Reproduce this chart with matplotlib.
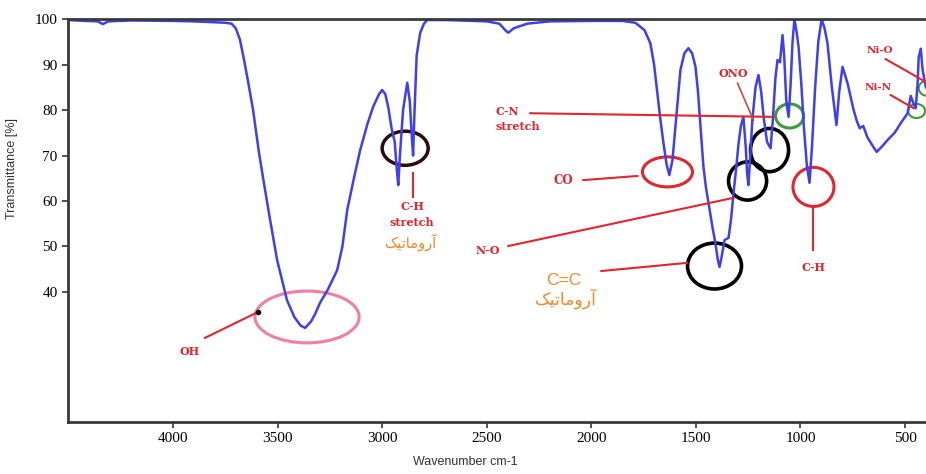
import matplotlib
matplotlib.use("Agg")
import matplotlib.pyplot as plt
from matplotlib.patches import Ellipse

# spectrum: wavenumber (cm-1) and transmittance (%)
wavenumber = [4500, 4420, 4360, 4335, 4310, 4200, 4000, 3900, 3800, 3750, 3720,
              3700, 3680, 3660, 3640, 3617, 3590, 3569, 3540, 3502, 3470, 3455,
              3420, 3390, 3368, 3340, 3320, 3297, 3260, 3215, 3190, 3167, 3135,
              3105, 3070, 3043, 3015, 3000, 2985, 2971, 2955, 2940, 2930, 2923,
              2915, 2900, 2880, 2868, 2858, 2852, 2845, 2835, 2818, 2800, 2785,
              2700, 2627, 2500, 2440, 2410, 2397, 2370, 2306, 2200, 2000, 1850,
              1790, 1765, 1745, 1718, 1700, 1684, 1670, 1655, 1640, 1627, 1612,
              1598, 1585, 1574, 1555, 1536, 1518, 1502, 1490, 1478, 1464, 1452,
              1440, 1420, 1407, 1395, 1387, 1378, 1363, 1344, 1332, 1320, 1308,
              1296, 1285, 1273, 1262, 1255, 1249, 1240, 1230, 1215, 1201, 1188,
              1175, 1160, 1143, 1132, 1120, 1110, 1098, 1086, 1078, 1068, 1057,
              1048, 1038, 1029, 1018, 1009, 995, 985, 970, 957, 945, 930, 915,
              899, 885, 871, 850, 828, 815, 799, 775, 746, 730, 717, 700, 680,
              660, 636, 610, 584, 550, 521, 488, 473, 460, 449, 440, 435, 425,
              416, 405, 400]
transmittance = [99.8, 99.6, 99.5, 98.9, 99.5, 99.7, 99.6, 99.5, 99.3, 99.2, 99.0,
                 98.0, 95.5, 91.0, 86.0, 80.0, 71.0, 65.0, 57.0, 47.0, 41.0, 38.2,
                 34.5, 32.6, 32.1, 33.5, 35.2, 37.6, 40.5, 44.8, 50.0, 58.0, 65.0,
                 71.2, 77.0, 80.7, 83.5, 84.4, 83.5, 80.7, 76.0, 73.0, 67.0, 63.5,
                 70.0, 80.0, 86.0, 82.0, 74.0, 70.0, 80.0, 92.0, 97.0, 99.0, 99.8,
                 99.8, 99.7, 99.5, 99.0, 97.5, 97.0, 98.0, 99.0, 99.5, 99.6, 99.6,
                 99.2, 98.3, 97.5, 94.7, 90.0, 83.7, 78.0, 72.7, 68.0, 65.7, 69.0,
                 76.3, 83.0, 88.8, 92.5, 93.6, 92.5, 89.5, 84.0, 76.3, 67.5, 63.0,
                 59.6, 54.0, 50.8, 47.0, 45.5, 47.5, 51.4, 51.9, 56.0, 61.8, 67.0,
                 72.7, 76.5, 78.5, 72.0, 66.0, 63.5, 70.0, 78.0, 85.0, 87.7, 84.0,
                 78.0, 73.0, 71.6, 78.0, 87.0, 91.0, 90.5, 96.5, 92.0, 82.0, 78.5,
                 85.0, 95.0, 100.0, 97.0, 93.8, 85.0, 77.0, 68.0, 64.0, 72.0, 85.0, 95.0,
                 100.0, 98.0, 94.7, 85.0, 76.7, 84.0, 89.5, 85.9, 80.0, 77.5, 76.0, 76.5, 74.0,
                 72.5, 70.8, 72.0, 73.4, 75.0, 77.1, 79.3, 83.1, 81.5, 80.4, 86.0, 91.6, 93.5,
                 88.8, 86.0, 85.0]

x_ticks = [4000, 3500, 3000, 2500, 2000, 1500, 1000, 500]
y_ticks = [40, 50, 60, 70, 80, 90, 100]

# Persian "aromatic", written with presentation forms in visual order
aromatik = "\uFB8F\uFBFF\uFE97\uFE8E\uFEE3\uFEED\uFEAD\uFE81"

RED = "#e0262e"
ORANGE = "#f08a2c"
BLUE = "#3f3ff0"
GREEN = "#3c9a3c"

fig = plt.figure(figsize=(9.26, 4.74), dpi=100)
ax = fig.add_axes([0.0734, 0.1097, 0.9266, 0.850])

ax.plot(wavenumber, transmittance, color=BLUE, linewidth=1.8)

ax.set_xlim(4502, 400)
ax.set_ylim(11.4, 100)
ax.set_xticks(x_ticks)
ax.set_yticks(y_ticks)
for lab in ax.get_xticklabels() + ax.get_yticklabels():
    lab.set_fontfamily("Liberation Serif")
    lab.set_fontsize(11)
ax.tick_params(direction="out", length=4, width=1.2, color="#333333")

for s in ["left", "bottom", "top"]:
    ax.spines[s].set_color("#3a3a3a")
    ax.spines[s].set_linewidth(2)
ax.spines["right"].set_visible(False)

ax.set_ylabel("Transmittance [%]", family="Liberation Sans", fontsize=9, color="#333333")
ax.yaxis.set_label_coords(-0.058, 0.628)
ax.set_xlabel("Wavenumber cm-1", family="Liberation Sans", fontsize=9, color="#333333")
ax.xaxis.set_label_coords(0.463, -0.085)

def ell(xc, yc, w, h, col, lw=2.2):
    ax.add_patch(Ellipse((xc, yc), w, h, fill=False, edgecolor=col,
                         linewidth=lw, clip_on=False))

def lbl(xc, yc, txt, size=8, col=RED, ha="center"):
    ax.text(xc, yc, txt, color=col, fontsize=size, fontweight="bold",
            family="DejaVu Serif", ha=ha, va="center")

def seg(x0, y0, x1, y1, col=RED, lw=1.5):
    ax.plot([x0, x1], [y0, y1], color=col, linewidth=lw, clip_on=False)

# OH
ell(3359, 34.5, 498, 11.4, "#f07fa0")
lbl(3919, 26.8, "OH")
seg(3847, 29.9, 3593, 35.6)
ax.plot([3593], [35.6], marker="o", markersize=3, color="black")

# C-H stretch
ell(2890, 71.6, 220, 7.5, "#2a0c0c", lw=2.5)
seg(2852, 66.2, 2852, 60.9)
lbl(2856, 58.7, "C-H")
lbl(2856, 55.3, "stretch")
ax.text(2866, 50.8, aromatik, color=ORANGE, fontsize=10.5, family="DejaVu Sans",
        ha="center", va="center")

# CO
ell(1636, 66.4, 239, 6.6, RED)
lbl(2134, 64.6, "CO", size=8.5)
seg(2038, 64.6, 1780, 65.5)

# C-N stretch
lbl(2459, 79.6, "C-N", ha="left")
lbl(2459, 76.3, "stretch", ha="left")
seg(2292, 79.3, 1129, 78.5)
ell(1052, 78.7, 134, 5.3, GREEN)

# ONO
lbl(1320, 88.1, "ONO")
seg(1301, 85.9, 1225, 77.8, col="#c0503a", lw=1.2)

# black circles
ell(1148, 71.2, 182, 9.5, "black", lw=2.6)
ell(1253, 64.4, 182, 8.4, "black", lw=2.6)
ell(1411, 45.7, 258, 10.1, "black", lw=2.6)

# N-O
lbl(2493, 49.2, "N-O")
seg(2397, 50.1, 1320, 60.7)

# C=C
ax.text(2134, 42.5, "C=C", color=ORANGE, fontsize=12.5, family="Liberation Sans",
        ha="center", va="center")
ax.text(2120, 38.6, aromatik, color=ORANGE, fontsize=12.5, family="DejaVu Sans",
        ha="center", va="center")
seg(1952, 44.6, 1541, 46.4)

# C-H
ell(938, 63.1, 196, 8.6, RED)
seg(938, 58.7, 938, 49.2)
lbl(938, 45.3, "C-H")

# Ni-O / Ni-N
lbl(622, 93.0, "Ni-O", size=7.5)
seg(593, 91.2, 402, 86.2)
ell(387, 84.8, 96, 3.5, GREEN, lw=1.5)
lbl(627, 85.0, "Ni-N", size=7.5)
seg(569, 83.3, 459, 80.4)
ell(445, 79.8, 81, 3.1, GREEN, lw=1.5)

fig.savefig("out.png", dpi=100)
